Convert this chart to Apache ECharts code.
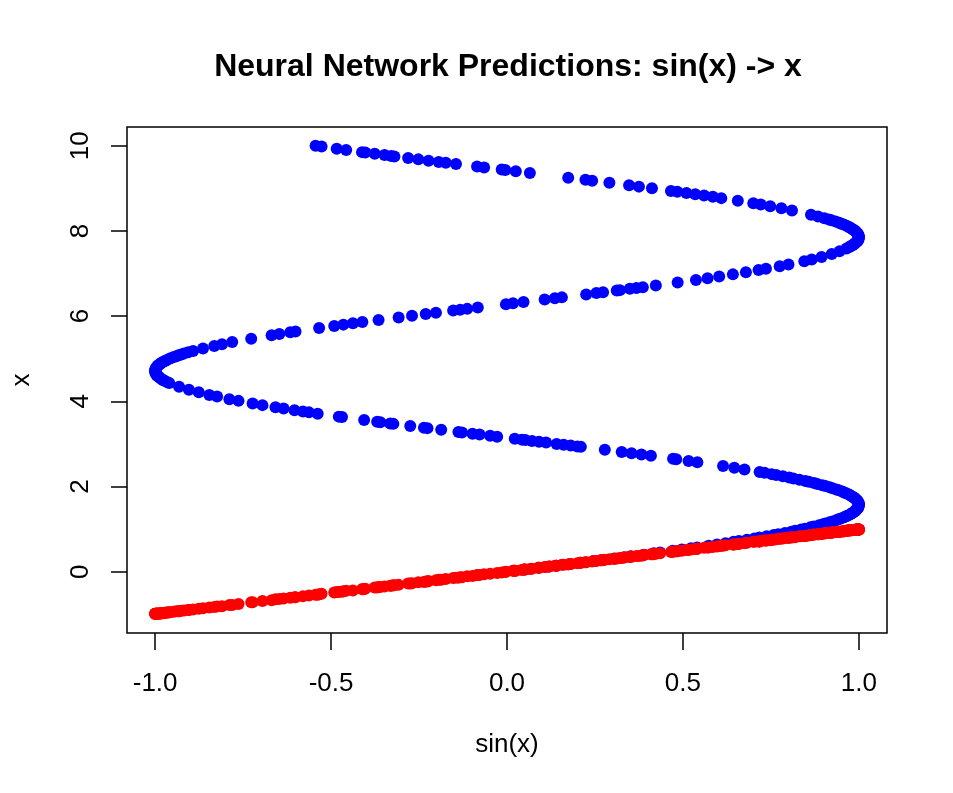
<!DOCTYPE html>
<html>
<head>
<meta charset="utf-8">
<title>Neural Network Predictions</title>
<script src="https://cdn.jsdelivr.net/npm/echarts@6/dist/echarts.min.js"></script>
<style>
  html, body { margin: 0; padding: 0; background: #fff; }
  #main { width: 953px; height: 793px; }
</style>
</head>
<body>
<div id="main"></div>
<script>
// x values (y axis)
var xVals = [
  0.02, 0.05, 0.09, 0.12, 0.14, 0.18, 0.21, 0.25, 0.27, 0.31,
  0.34, 0.36, 0.40, 0.43, 0.45, 0.49, 0.52, 0.55, 0.57, 0.61,
  0.64, 0.67, 0.70, 0.72, 0.75, 0.78, 0.80, 0.83, 0.86, 0.88,
  0.91, 0.94, 0.96, 0.99, 1.01, 1.04, 1.06, 1.09, 1.11, 1.13,
  1.16, 1.18, 1.21, 1.23, 1.25, 1.28, 1.30, 1.32, 1.35, 1.37,
  1.39, 1.42, 1.44, 1.46, 1.49, 1.51, 1.53, 1.56, 1.58, 1.60,
  1.62, 1.65, 1.67, 1.69, 1.72, 1.74, 1.76, 1.79, 1.81, 1.84,
  1.86, 1.88, 1.91, 1.93, 1.96, 1.98, 2.01, 2.03, 2.06, 2.08,
  2.11, 2.13, 2.16, 2.19, 2.21, 2.24, 2.27, 2.29, 2.32, 2.34,
  2.40, 2.44, 2.48, 2.57, 2.60, 2.64, 2.65, 2.72, 2.75, 2.78,
  2.81, 2.86, 2.93, 2.94, 2.96, 2.98, 3.00, 3.03, 3.05, 3.07,
  3.09, 3.10, 3.12, 3.17, 3.19, 3.22, 3.24, 3.27, 3.28, 3.33,
  3.37, 3.38, 3.42, 3.47, 3.48, 3.51, 3.52, 3.56, 3.63, 3.64,
  3.71, 3.74, 3.76, 3.79, 3.83, 3.86, 3.91, 3.95, 4.01, 4.05,
  4.11, 4.15, 4.21, 4.27, 4.34, 4.43, 4.45, 4.48, 4.50, 4.53,
  4.55, 4.58, 4.60, 4.62, 4.65, 4.67, 4.70, 4.72, 4.74, 4.77,
  4.79, 4.82, 4.84, 4.86, 4.89, 4.91, 4.94, 4.96, 4.99, 5.01,
  5.04, 5.06, 5.08, 5.10, 5.12, 5.15, 5.18, 5.24, 5.30, 5.34,
  5.39, 5.47, 5.55, 5.58, 5.62, 5.64, 5.72, 5.77, 5.80, 5.83,
  5.86, 5.91, 5.97, 6.01, 6.05, 6.08, 6.13, 6.15, 6.17, 6.20,
  6.28, 6.30, 6.33, 6.39, 6.42, 6.44, 6.51, 6.54, 6.56, 6.60,
  6.61, 6.64, 6.66, 6.68, 6.72, 6.79, 6.85, 6.89, 6.93, 6.98,
  7.03, 7.08, 7.11, 7.17, 7.21, 7.29, 7.33, 7.39, 7.46, 7.52,
  7.59, 7.62, 7.65, 7.67, 7.70, 7.72, 7.75, 7.77, 7.80, 7.82,
  7.85, 7.87, 7.90, 7.92, 7.94, 7.97, 7.99, 8.02, 8.04, 8.07,
  8.09, 8.12, 8.15, 8.17, 8.19, 8.22, 8.25, 8.27, 8.30, 8.34,
  8.38, 8.48, 8.53, 8.58, 8.62, 8.65, 8.71, 8.77, 8.80, 8.83,
  8.86, 8.89, 8.92, 8.94, 9.00, 9.04, 9.07, 9.13, 9.18, 9.20,
  9.25, 9.36, 9.40, 9.43, 9.44, 9.49, 9.51, 9.57, 9.60, 9.62,
  9.65, 9.68, 9.71, 9.75, 9.76, 9.78, 9.81, 9.84, 9.85, 9.90,
  9.93, 9.98, 10.00
]

// sin(x) values (x axis) for the same points
var sinVals = [
  0.020, 0.050, 0.090, 0.120, 0.140, 0.179, 0.208, 0.247, 0.267, 0.305,
  0.333, 0.352, 0.389, 0.417, 0.435, 0.471, 0.497, 0.523, 0.540, 0.573,
  0.597, 0.621, 0.644, 0.659, 0.682, 0.703, 0.717, 0.738, 0.758, 0.771,
  0.790, 0.808, 0.819, 0.836, 0.847, 0.862, 0.872, 0.887, 0.896, 0.904,
  0.917, 0.925, 0.936, 0.942, 0.949, 0.958, 0.964, 0.969, 0.976, 0.980,
  0.984, 0.989, 0.991, 0.994, 0.997, 0.998, 0.999, 1.000, 1.000, 1.000,
  0.999, 0.997, 0.995, 0.993, 0.989, 0.986, 0.982, 0.976, 0.972, 0.964,
  0.958, 0.953, 0.943, 0.936, 0.925, 0.917, 0.905, 0.896, 0.882, 0.873,
  0.858, 0.848, 0.831, 0.814, 0.802, 0.784, 0.765, 0.752, 0.732, 0.718,
  0.675, 0.646, 0.614, 0.541, 0.516, 0.481, 0.472, 0.409, 0.382, 0.354,
  0.326, 0.278, 0.210, 0.200, 0.181, 0.161, 0.141, 0.111, 0.091, 0.071,
  0.052, 0.042, 0.022, -0.028, -0.048, -0.078, -0.098, -0.128, -0.138, -0.187,
  -0.226, -0.236, -0.275, -0.323, -0.332, -0.360, -0.369, -0.406, -0.469, -0.478,
  -0.538, -0.563, -0.580, -0.604, -0.635, -0.658, -0.695, -0.723, -0.763, -0.789,
  -0.824, -0.846, -0.876, -0.904, -0.932, -0.960, -0.966, -0.973, -0.978, -0.983,
  -0.987, -0.991, -0.994, -0.996, -0.998, -0.999, -1.000, -1.000, -1.000, -0.998,
  -0.997, -0.994, -0.992, -0.989, -0.984, -0.981, -0.974, -0.969, -0.962, -0.956,
  -0.947, -0.940, -0.933, -0.926, -0.918, -0.906, -0.892, -0.864, -0.832, -0.810,
  -0.781, -0.727, -0.669, -0.647, -0.616, -0.601, -0.534, -0.491, -0.465, -0.438,
  -0.411, -0.365, -0.308, -0.270, -0.231, -0.202, -0.153, -0.133, -0.113, -0.083,
  -0.003, 0.017, 0.047, 0.107, 0.136, 0.156, 0.225, 0.254, 0.273, 0.312,
  0.321, 0.349, 0.368, 0.386, 0.423, 0.485, 0.537, 0.570, 0.603, 0.642,
  0.679, 0.715, 0.736, 0.775, 0.800, 0.845, 0.866, 0.894, 0.923, 0.945,
  0.965, 0.973, 0.979, 0.983, 0.988, 0.991, 0.995, 0.997, 0.999, 0.999,
  1.000, 1.000, 0.999, 0.998, 0.996, 0.993, 0.991, 0.986, 0.982, 0.977,
  0.972, 0.965, 0.957, 0.950, 0.944, 0.934, 0.922, 0.915, 0.902, 0.884,
  0.864, 0.810, 0.780, 0.748, 0.721, 0.700, 0.656, 0.609, 0.585, 0.560,
  0.535, 0.510, 0.484, 0.466, 0.412, 0.375, 0.347, 0.291, 0.242, 0.223,
  0.174, 0.065, 0.025, -0.005, -0.015, -0.065, -0.085, -0.145, -0.174, -0.194,
  -0.223, -0.252, -0.281, -0.320, -0.329, -0.348, -0.376, -0.403, -0.412, -0.457,
  -0.484, -0.527, -0.544
]

// network output for each sin(x) input (red points)
var predVals = [
  0.02, 0.05, 0.09, 0.12, 0.14, 0.18, 0.21, 0.25, 0.27, 0.30,
  0.33, 0.35, 0.39, 0.41, 0.43, 0.47, 0.49, 0.52, 0.54, 0.57,
  0.59, 0.62, 0.64, 0.65, 0.68, 0.70, 0.71, 0.73, 0.75, 0.77,
  0.79, 0.80, 0.81, 0.83, 0.84, 0.86, 0.87, 0.88, 0.89, 0.90,
  0.91, 0.92, 0.93, 0.94, 0.94, 0.95, 0.96, 0.96, 0.97, 0.97,
  0.98, 0.98, 0.99, 0.99, 0.99, 0.99, 0.99, 0.99, 0.99, 0.99,
  0.99, 0.99, 0.99, 0.99, 0.98, 0.98, 0.98, 0.97, 0.97, 0.96,
  0.95, 0.95, 0.94, 0.93, 0.92, 0.91, 0.90, 0.89, 0.88, 0.87,
  0.85, 0.84, 0.83, 0.81, 0.80, 0.78, 0.76, 0.75, 0.73, 0.71,
  0.67, 0.64, 0.61, 0.54, 0.51, 0.48, 0.47, 0.41, 0.38, 0.35,
  0.32, 0.28, 0.21, 0.20, 0.18, 0.16, 0.14, 0.11, 0.09, 0.07,
  0.05, 0.04, 0.02, -0.03, -0.05, -0.08, -0.10, -0.13, -0.14, -0.19,
  -0.23, -0.24, -0.28, -0.32, -0.33, -0.36, -0.37, -0.41, -0.47, -0.48,
  -0.54, -0.56, -0.58, -0.60, -0.63, -0.65, -0.69, -0.72, -0.76, -0.78,
  -0.82, -0.84, -0.87, -0.90, -0.93, -0.95, -0.96, -0.97, -0.97, -0.98,
  -0.98, -0.98, -0.99, -0.99, -0.99, -0.99, -0.99, -0.99, -0.99, -0.99,
  -0.99, -0.99, -0.98, -0.98, -0.98, -0.97, -0.97, -0.96, -0.96, -0.95,
  -0.94, -0.93, -0.93, -0.92, -0.91, -0.90, -0.89, -0.86, -0.83, -0.81,
  -0.78, -0.72, -0.67, -0.64, -0.61, -0.60, -0.53, -0.49, -0.46, -0.44,
  -0.41, -0.36, -0.31, -0.27, -0.23, -0.20, -0.15, -0.13, -0.11, -0.08,
  0.00, 0.02, 0.05, 0.11, 0.14, 0.16, 0.22, 0.25, 0.27, 0.31,
  0.32, 0.35, 0.37, 0.38, 0.42, 0.48, 0.53, 0.57, 0.60, 0.64,
  0.68, 0.71, 0.73, 0.77, 0.79, 0.84, 0.86, 0.89, 0.92, 0.94,
  0.96, 0.97, 0.97, 0.98, 0.98, 0.98, 0.99, 0.99, 0.99, 0.99,
  0.99, 0.99, 0.99, 0.99, 0.99, 0.99, 0.98, 0.98, 0.98, 0.97,
  0.97, 0.96, 0.95, 0.94, 0.94, 0.93, 0.92, 0.91, 0.90, 0.88,
  0.86, 0.81, 0.78, 0.74, 0.72, 0.70, 0.65, 0.61, 0.58, 0.56,
  0.53, 0.51, 0.48, 0.46, 0.41, 0.37, 0.35, 0.29, 0.24, 0.22,
  0.17, 0.06, 0.02, -0.01, -0.02, -0.06, -0.08, -0.14, -0.17, -0.19,
  -0.22, -0.25, -0.28, -0.32, -0.33, -0.35, -0.37, -0.40, -0.41, -0.45,
  -0.48, -0.52, -0.54
]

var xTicks = [-1, -0.5, 0, 0.5, 1]
var yTicks = [0, 2, 4, 6, 8, 10]

var trueData = []
var predData = []
for (var i = 0; i < xVals.length; i++) {
    trueData.push([sinVals[i], xVals[i]])
    predData.push([sinVals[i], predVals[i]])
}

var font = "'Liberation Sans', Arial, sans-serif"
var myChart = echarts.init(document.getElementById('main'))

option = {
    animation: false,
    backgroundColor: '#fff',
    title: {
        text: 'Neural Network Predictions: sin(x) -> x',
        left: 503,
        top: 46,
        textAlign: 'center',
        textStyle: {
            fontFamily: font,
            fontSize: 32,
            fontWeight: 'bold',
            color: '#000'
        }
    },
    grid: {
        left: 127,
        right: 66,
        top: 127,
        bottom: 160,
        show: true,
        borderColor: '#000',
        borderWidth: 1.5,
        backgroundColor: 'transparent'
    },
    xAxis: {
        type: 'value',
        min: -1.08,
        max: 1.08,
        name: 'sin(x)',
        nameLocation: 'middle',
        nameGap: 99,
        nameTextStyle: { fontFamily: font, fontSize: 26, color: '#000' },
        axisLine: { show: false, onZero: false },
        axisTick: {
            show: true,
            length: 17,
            customValues: xTicks,
            lineStyle: { color: '#000', width: 1.5 }
        },
        axisLabel: {
            customValues: xTicks,
            margin: 38,
            fontFamily: font,
            fontSize: 26,
            color: '#000',
            formatter: function (v) { return v.toFixed(1) }
        },
        splitLine: { show: false }
    },
    yAxis: {
        type: 'value',
        min: -1.44,
        max: 10.44,
        name: 'x',
        nameLocation: 'middle',
        nameGap: 92,
        nameTextStyle: { fontFamily: font, fontSize: 26, color: '#000' },
        axisLine: { show: false, onZero: false },
        axisTick: {
            show: true,
            length: 16,
            customValues: yTicks,
            lineStyle: { color: '#000', width: 1.5 }
        },
        axisLabel: {
            customValues: yTicks,
            rotate: 90,
            margin: 33,
            fontFamily: font,
            fontSize: 26,
            color: '#000'
        },
        splitLine: { show: false }
    },
    series: [
        {
            name: 'True',
            type: 'scatter',
            symbol: 'circle',
            symbolSize: 12,
            silent: true,
            itemStyle: { color: '#0000ff', opacity: 1 },
            data: trueData
        },
        {
            name: 'Predicted',
            type: 'scatter',
            symbol: 'circle',
            symbolSize: 12,
            silent: true,
            itemStyle: { color: '#ff0000', opacity: 1 },
            data: predData
        }
    ]
}
myChart.setOption(option)
</script>
</body>
</html>
